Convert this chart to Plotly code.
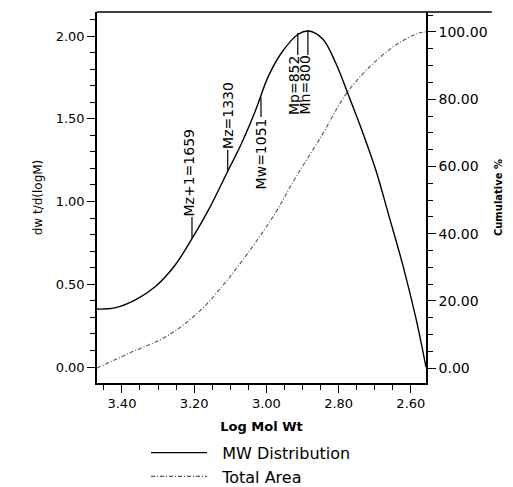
import plotly.graph_objects as go

# ---- data ----
mw_logm = [3.469, 3.420, 3.364, 3.308, 3.253, 3.206, 3.161, 3.106, 3.067, 3.031,
           2.994, 2.956, 2.911, 2.883, 2.844, 2.808, 2.772, 2.733, 2.697, 2.661,
           2.622, 2.586, 2.558]
mw_dist = [0.350, 0.357, 0.404, 0.485, 0.615, 0.775, 0.946, 1.187, 1.360, 1.545,
           1.759, 1.905, 2.012, 2.030, 1.982, 1.837, 1.639, 1.416, 1.190, 0.916,
           0.614, 0.295, 0.000]

area_logm = [3.469, 3.378, 3.275, 3.184, 3.106, 3.039, 2.976, 2.920, 2.846, 2.781,
             2.717, 2.642, 2.578, 2.558]
area_cum = [0.0, 4.5, 9.5, 17.0, 26.5, 36.0, 46.0, 56.5, 69.3, 81.3,
            89.3, 96.1, 99.7, 100.0]

# averages marked on the distribution curve
label_text = ["Mz+1=1659", "Mz=1330", "Mw=1051", "Mp=852", "Mn=800"]
label_logm = [3.206, 3.107, 3.015, 2.913, 2.885]     # where the leader line sits
label_text_logm = [3.2145, 3.108, 3.015, 2.925, 2.893]
label_line_from = [0.775, 1.185, 1.630, 2.018, 2.036]  # on the curve
label_line_to = [0.906, 1.311, 1.511, 1.885, 1.885]    # at the text end

x_ticks = [3.40, 3.20, 3.00, 2.80, 2.60]
left_ticks = [0.0, 0.5, 1.0, 1.5, 2.0]
right_ticks = [0, 20, 40, 60, 80, 100]

FONT = "DejaVu Sans"

fig = go.Figure()
fig.add_trace(go.Scatter(
    x=mw_logm, y=mw_dist, name="\u00a0\u00a0MW Distribution", mode="lines",
    line=dict(color="black", width=1.4, shape="spline", smoothing=1.0),
    yaxis="y"))
fig.add_trace(go.Scatter(
    x=area_logm, y=area_cum, name="\u00a0\u00a0Total Area", mode="lines",
    line=dict(color="#555555", width=1.1, shape="spline", smoothing=1.0,
              dash="4px,2px,1px,2px"),
    yaxis="y2"))

shapes = []
annotations = []
for txt, lx, tx, y0, y1 in zip(label_text, label_logm, label_text_logm,
                               label_line_from, label_line_to):
    shapes.append(dict(type="line", xref="x", yref="y", x0=lx, x1=lx, y0=y0, y1=y1,
                       line=dict(color="black", width=1.2)))
    above = y1 > y0
    annotations.append(dict(
        x=tx, y=y1, xref="x", yref="y", text=txt, textangle=-90,
        showarrow=False, xanchor="center", yanchor="bottom" if above else "top",
        font=dict(family=FONT, size=14, color="black"), borderpad=0))

# top frame line (extends past the right axis as in the scan)
shapes.append(dict(type="line", xref="paper", yref="paper", x0=0, x1=1.2, y0=1, y1=1,
                   layer="above", line=dict(color="black", width=1.5)))

fig.update_layout(
    width=513, height=487,
    margin=dict(l=97, r=87, t=12, b=104, autoexpand=False),
    paper_bgcolor="white", plot_bgcolor="white",
    font=dict(family=FONT, color="black", size=13),
    showlegend=True,
    legend=dict(x=0.149, y=-0.142, xanchor="left", yanchor="top",
                font=dict(family=FONT, size=16, color="black"),
                bgcolor="rgba(0,0,0,0)", itemwidth=56, tracegroupgap=0),
    xaxis=dict(range=[3.469, 2.558], tickvals=x_ticks, tickformat=".2f",
               ticks="outside", ticklen=8, tickwidth=1.3, tickcolor="black",
               minor=dict(dtick=0.05, tick0=0, ticks="outside", ticklen=5,
                          tickwidth=1.1, tickcolor="black"),
               showline=True, linecolor="black", linewidth=1.5, showgrid=False,
               zeroline=False, tickfont=dict(size=13),
               title=dict(text="<b>Log Mol Wt</b>", font=dict(size=13), standoff=12)),
    yaxis=dict(range=[-0.0967, 2.145], tickvals=left_ticks, tickformat=".2f",
               ticks="outside", ticklen=8, tickwidth=1.3, tickcolor="black",
               minor=dict(dtick=0.1, tick0=0, ticks="outside", ticklen=5,
                          tickwidth=1.1, tickcolor="black"),
               showline=True, linecolor="black", linewidth=1.5, showgrid=False,
               zeroline=False, tickfont=dict(size=13),
               title=dict(text="dw t/d(logM)", font=dict(size=12), standoff=10)),
    yaxis2=dict(range=[-4.46, 105.95], tickvals=right_ticks, tickformat=".2f",
                overlaying="y", side="right", anchor="x",
                ticks="outside", ticklen=8, tickwidth=1.3, tickcolor="black",
                minor=dict(dtick=5, tick0=0, ticks="outside", ticklen=5,
                           tickwidth=1.1, tickcolor="black"),
                showline=True, linecolor="black", linewidth=1.5, showgrid=False,
                zeroline=False, tickfont=dict(size=14),
                title=dict(text="<b>Cumulative %</b>", font=dict(size=10), standoff=8)),
    shapes=shapes,
    annotations=annotations,
)

fig.write_html("out.html")
